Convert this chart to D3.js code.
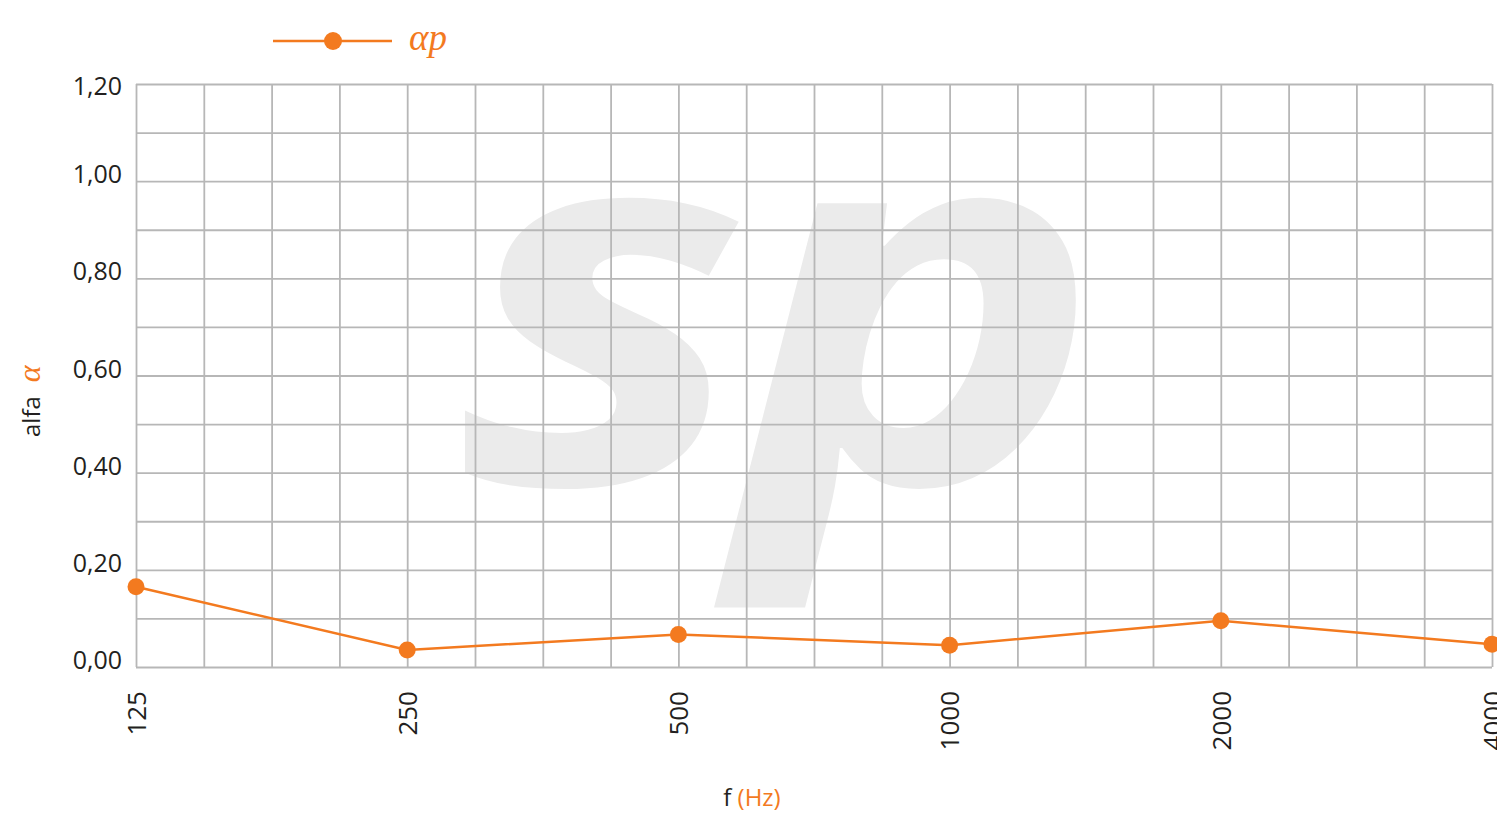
<!DOCTYPE html>
<html>
<head>
<meta charset="utf-8">
<script src="https://cdn.jsdelivr.net/npm/d3@7"></script>
<style>
  html, body { margin: 0; padding: 0; background: #fff; }
  svg { display: block; }
</style>
</head>
<body>
<svg id="chart" width="1497" height="813"></svg>
<script>
// ---- data ----
const frequencies = ["125", "250", "500", "1000", "2000", "4000"];
const alphaP = [0.165, 0.035, 0.067, 0.045, 0.095, 0.047];
const yTickValues = [0, 0.2, 0.4, 0.6, 0.8, 1.0, 1.2];
const yTickLabels = ["0,00", "0,20", "0,40", "0,60", "0,80", "1,00", "1,20"];
const seriesName = "αp";

// ---- layout ----
const plotL = 136, plotR = 1492, plotT = 84, plotB = 667;
const orange = "#f37a1f";
const gridColor = "#b7b7b7";
const textColor = "#231f20";

const svg = d3.select("#chart");

const x = d3.scalePoint().domain(frequencies).range([plotL, plotR]);
const y = d3.scaleLinear().domain([0, 1.2]).range([plotB, plotT]);
const xGrid = d3.scaleLinear().domain([0, 20]).range([plotL, plotR]);

// watermark
svg.append("text")
  .attr("transform", "translate(458,484) scale(1.18,0.98)")
  .attr("font-family", "'Open Sans', sans-serif")
  .attr("font-weight", 700)
  .attr("font-style", "italic")
  .attr("font-size", 525)
  .attr("letter-spacing", -14)
  .attr("fill", "#ebebeb")
  .text("sp");

// horizontal grid
const gy = svg.append("g").attr("transform", `translate(${plotL},0)`)
  .call(d3.axisLeft(y).tickValues(d3.range(0, 13).map(i => i / 10)).tickSize(-(plotR - plotL)).tickFormat(""));
gy.select(".domain").remove();
gy.selectAll(".tick line").attr("stroke", gridColor).attr("stroke-width", 1.8);

// vertical grid
const gx = svg.append("g").attr("transform", `translate(0,${plotT})`)
  .call(d3.axisTop(xGrid).tickValues(d3.range(0, 21)).tickSize(-(plotB - plotT)).tickFormat(""));
gx.select(".domain").remove();
gx.selectAll(".tick line").attr("stroke", gridColor).attr("stroke-width", 1.8);

// y tick labels
const ya = svg.append("g").attr("transform", `translate(${plotL},0)`)
  .call(d3.axisLeft(y).tickValues(yTickValues).tickSize(0).tickPadding(14)
    .tickFormat((d, i) => yTickLabels[i]));
ya.select(".domain").remove();
ya.selectAll("text")
  .attr("font-family", "'Open Sans', sans-serif")
  .attr("font-size", 25)
  .attr("fill", textColor)
  .attr("dy", d => d === 1.2 ? "0.42em" : "0.06em");

// x tick labels (rotated)
const xa = svg.append("g").attr("transform", `translate(0,${plotB})`)
  .call(d3.axisBottom(x).tickSize(0).tickPadding(0));
xa.select(".domain").remove();
xa.selectAll("text")
  .attr("font-family", "'Open Sans', sans-serif")
  .attr("font-size", 26)
  .attr("fill", textColor)
  .attr("text-anchor", "end")
  .attr("transform", "translate(0,24) rotate(-90)")
  .attr("x", 0).attr("y", 0).attr("dy", "0.36em");

// line
const line = d3.line().x((d, i) => x(frequencies[i])).y(d => y(d));
svg.append("path")
  .datum(alphaP)
  .attr("d", line)
  .attr("fill", "none")
  .attr("stroke", orange)
  .attr("stroke-width", 2.5);

svg.append("g").selectAll("circle")
  .data(alphaP)
  .join("circle")
  .attr("cx", (d, i) => x(frequencies[i]))
  .attr("cy", d => y(d))
  .attr("r", 8.5)
  .attr("fill", orange);

// legend
const lg = svg.append("g");
lg.append("line").attr("x1", 273).attr("x2", 392).attr("y1", 41).attr("y2", 41)
  .attr("stroke", orange).attr("stroke-width", 2.5);
lg.append("circle").attr("cx", 333).attr("cy", 41).attr("r", 9).attr("fill", orange);
lg.append("text").attr("x", 409).attr("y", 50)
  .attr("font-family", "'Liberation Serif', serif")
  .attr("font-style", "italic")
  .attr("font-size", 37)
  .attr("fill", orange)
  .text(seriesName);

// x axis title
const xt = svg.append("text").attr("x", 752).attr("y", 806)
  .attr("text-anchor", "middle")
  .attr("font-family", "'Open Sans', sans-serif")
  .attr("font-size", 24);
xt.append("tspan").attr("fill", textColor).text("f ");
xt.append("tspan").attr("fill", orange).text("(Hz)");

// y axis title
const yt = svg.append("text")
  .attr("transform", "translate(40,437) rotate(-90)")
  .attr("text-anchor", "start")
  .attr("font-family", "'Open Sans', sans-serif")
  .attr("font-size", 24);
yt.append("tspan").attr("fill", textColor).text("alfa");
yt.append("tspan").attr("fill", orange)
  .attr("dx", 14)
  .attr("font-family", "'Liberation Serif', serif")
  .attr("font-style", "italic")
  .attr("font-size", 32)
  .text("α");
</script>
</body>
</html>
